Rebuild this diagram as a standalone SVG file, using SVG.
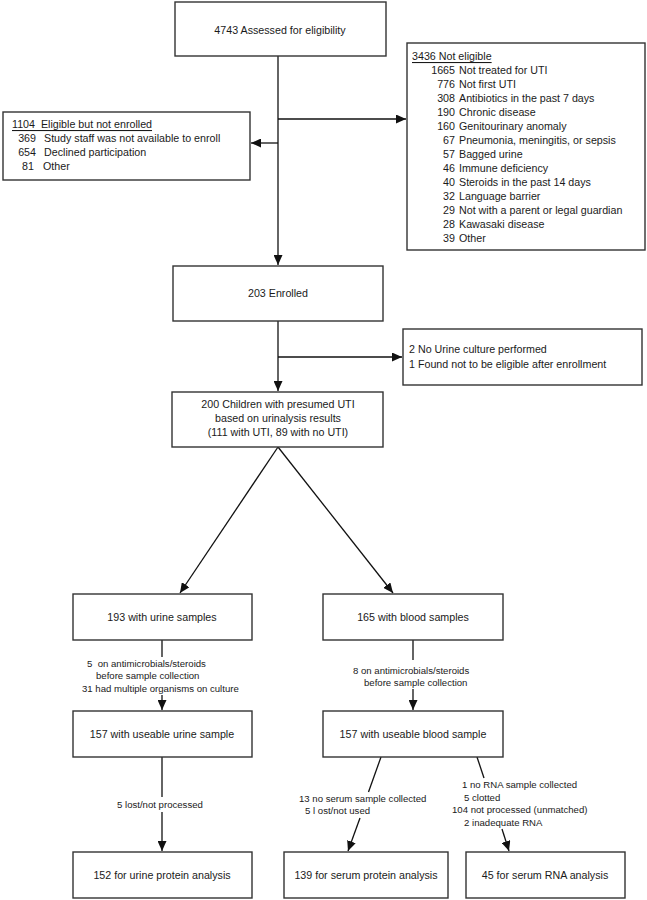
<svg xmlns="http://www.w3.org/2000/svg" width="647" height="900" viewBox="0 0 647 900">
<style>
.box{fill:#fff;stroke:#333;stroke-width:1.4}
.t{font-family:"Liberation Sans",Arial,sans-serif;font-size:10.7px;fill:#1a1a1a;dominant-baseline:central}
.s{font-family:"Liberation Sans",Arial,sans-serif;font-size:9.6px;fill:#1a1a1a;dominant-baseline:central}
.c{text-anchor:middle}
.e{text-anchor:end}
.u{text-decoration:underline}
.ln{fill:none;stroke:#111;stroke-width:1.3}
</style>
<defs>
<marker id="ah" markerUnits="userSpaceOnUse" markerWidth="11" markerHeight="9" refX="10" refY="4.5" orient="auto">
<path d="M0,0 L10,4.5 L0,9 z" fill="#111"/>
</marker>
</defs>
<rect width="647" height="900" fill="#fff"/>
<g id="connectors">
<line class="ln" x1="278" y1="56" x2="278" y2="265" marker-end="url(#ah)"/>
<line class="ln" x1="278" y1="119" x2="406" y2="119" marker-end="url(#ah)"/>
<line class="ln" x1="278" y1="143" x2="251" y2="143" marker-end="url(#ah)"/>
<line class="ln" x1="278" y1="321" x2="278" y2="391" marker-end="url(#ah)"/>
<line class="ln" x1="278" y1="357" x2="402" y2="357" marker-end="url(#ah)"/>
<line class="ln" x1="278" y1="447" x2="180" y2="593" marker-end="url(#ah)"/>
<line class="ln" x1="278" y1="447" x2="393" y2="593" marker-end="url(#ah)"/>
<line class="ln" x1="162" y1="640" x2="162" y2="657"/>
<line class="ln" x1="162" y1="695" x2="162" y2="710" marker-end="url(#ah)"/>
<line class="ln" x1="413" y1="640" x2="413" y2="660"/>
<line class="ln" x1="413" y1="689" x2="413" y2="710" marker-end="url(#ah)"/>
<line class="ln" x1="162" y1="757" x2="162" y2="797"/>
<line class="ln" x1="162" y1="812" x2="162" y2="851" marker-end="url(#ah)"/>
<line class="ln" x1="381" y1="757" x2="368.5" y2="792"/>
<line class="ln" x1="360" y1="818" x2="348" y2="851" marker-end="url(#ah)"/>
<line class="ln" x1="477" y1="757" x2="484" y2="778"/>
<line class="ln" x1="502" y1="829" x2="509" y2="851" marker-end="url(#ah)"/>
<text class="s" x="87" y="663" xml:space="preserve">5  on antimicrobials/steroids</text>
<text class="s" x="96" y="675.5">before sample collection</text>
<text class="s" x="82" y="688">31 had multiple organisms on culture</text>
<text class="s" x="353" y="670">8 on antimicrobials/steroids</text>
<text class="s" x="364" y="682">before sample collection</text>
<text class="s" x="117" y="804">5 lost/not processed</text>
<text class="s" x="299" y="798">13 no serum sample collected</text>
<text class="s" x="305" y="810">5 l ost/not used</text>
<text class="s" x="462" y="784">1 no RNA sample collected</text>
<text class="s" x="464" y="797">5 clotted</text>
<text class="s" x="452" y="809.5">104 not processed (unmatched)</text>
<text class="s" x="464" y="822">2 inadequate RNA</text>
</g>
<g id="assessed">
<rect class="box" x="175" y="2" width="211" height="54"/>
<text class="t c" x="280" y="30">4743 Assessed for eligibility</text>
</g>
<g id="not-eligible">
<rect class="box" x="407" y="43" width="238" height="207"/>
<text class="t u" x="412" y="56">3436 Not eligible</text>
<g class="t">
<text class="e" x="455" y="70">1665</text><text x="459" y="70">Not treated for UTI</text>
<text class="e" x="455" y="84">776</text><text x="459" y="84">Not first UTI</text>
<text class="e" x="455" y="98">308</text><text x="459" y="98">Antibiotics in the past 7 days</text>
<text class="e" x="455" y="112">190</text><text x="459" y="112">Chronic disease</text>
<text class="e" x="455" y="126">160</text><text x="459" y="126">Genitourinary anomaly</text>
<text class="e" x="455" y="140">67</text><text x="459" y="140">Pneumonia, meningitis, or sepsis</text>
<text class="e" x="455" y="154">57</text><text x="459" y="154">Bagged urine</text>
<text class="e" x="455" y="168">46</text><text x="459" y="168">Immune deficiency</text>
<text class="e" x="455" y="182">40</text><text x="459" y="182">Steroids in the past 14 days</text>
<text class="e" x="455" y="196">32</text><text x="459" y="196">Language barrier</text>
<text class="e" x="455" y="210">29</text><text x="459" y="210">Not with a parent or legal guardian</text>
<text class="e" x="455" y="224">28</text><text x="459" y="224">Kawasaki disease</text>
<text class="e" x="455" y="238">39</text><text x="459" y="238">Other</text>
</g>
</g>
<g id="eligible-not-enrolled">
<rect class="box" x="3" y="112" width="247" height="68"/>
<text class="t u" x="12" y="124" xml:space="preserve">1104  Eligible but not enrolled</text>
<g class="t">
<text class="e" x="36" y="138">369</text><text x="44" y="138">Study staff was not available to enroll</text>
<text class="e" x="36" y="152">654</text><text x="44" y="152">Declined participation</text>
<text class="e" x="34" y="166">81</text><text x="43" y="166">Other</text>
</g>
</g>
<g id="enrolled">
<rect class="box" x="173" y="266" width="210" height="55"/>
<text class="t c" x="278" y="293">203 Enrolled</text>
</g>
<g id="excluded-after">
<rect class="box" x="403" y="329" width="239" height="56"/>
<text class="t" x="409" y="349">2 No Urine culture performed</text>
<text class="t" x="409" y="364">1 Found not to be eligible after enrollment</text>
</g>
<g id="children">
<rect class="box" x="172" y="392" width="211" height="55"/>
<text class="t c" x="278" y="404">200 Children with presumed UTI</text>
<text class="t c" x="278" y="418">based on urinalysis results</text>
<text class="t c" x="278" y="432">(111 with UTI, 89 with no UTI)</text>
</g>
<g id="urine">
<rect class="box" x="73" y="594" width="179" height="46"/>
<text class="t c" x="162" y="617">193 with urine samples</text>
</g>
<g id="blood">
<rect class="box" x="323" y="594" width="180" height="46"/>
<text class="t c" x="413" y="617">165 with blood samples</text>
</g>
<g id="useable-urine">
<rect class="box" x="73" y="711" width="179" height="46"/>
<text class="t c" x="162" y="734">157 with useable urine sample</text>
</g>
<g id="useable-blood">
<rect class="box" x="323" y="711" width="180" height="46"/>
<text class="t c" x="413" y="734">157 with useable blood sample</text>
</g>
<g id="urine-protein">
<rect class="box" x="73" y="852" width="179" height="46"/>
<text class="t c" x="162" y="875">152 for urine protein analysis</text>
</g>
<g id="serum-protein">
<rect class="box" x="284" y="852" width="164" height="46"/>
<text class="t c" x="366" y="875">139 for serum protein analysis</text>
</g>
<g id="serum-rna">
<rect class="box" x="466" y="852" width="159" height="46"/>
<text class="t c" x="545" y="875">45 for serum RNA analysis</text>
</g>
</svg>
